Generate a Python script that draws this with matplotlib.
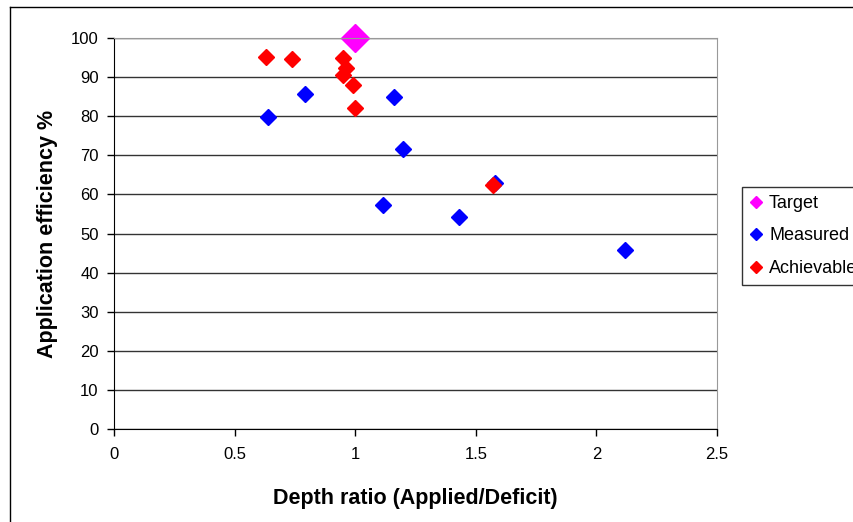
import matplotlib
matplotlib.use("Agg")
import matplotlib.pyplot as plt
from matplotlib.lines import Line2D

plt.rcParams['font.family'] = ['Liberation Sans', 'DejaVu Sans']

# depth ratio (applied/deficit) vs application efficiency %
target_x = [1.0]
target_y = [100.0]

measured_x = [0.64, 0.79, 1.16, 1.20, 1.58, 1.115, 1.43, 2.12]
measured_y = [79.7, 85.8, 85.0, 71.6, 63.0, 57.2, 54.2, 45.7]

achievable_x = [0.63, 0.74, 0.95, 0.96, 0.95, 0.99, 1.0, 1.57]
achievable_y = [95.2, 94.7, 94.8, 92.3, 90.6, 88.0, 82.0, 62.4]

fig = plt.figure(figsize=(8.54, 5.22), dpi=100)
ax = fig.add_axes([114/854, 1-429/522, (717-114)/854, (429-38)/522])

ax.set_xlim(0, 2.5)
ax.set_ylim(0, 100)
ax.set_xticks([0, 0.5, 1, 1.5, 2, 2.5])
ax.set_xticklabels(['0', '0.5', '1', '1.5', '2', '2.5'])
ax.set_yticks(range(0, 101, 10))

ax.grid(axis='y', color='#333333', linewidth=1)
ax.set_axisbelow(True)
for s in ['top', 'right']:
    ax.spines[s].set_color('#999999')
for s in ['left', 'bottom']:
    ax.spines[s].set_color('black')
ax.tick_params(direction='out', length=5, width=1, labelsize=12, pad=6)
ax.tick_params(axis='x', pad=8)

ax.plot(measured_x, measured_y, 'D', color='#0000ff', ms=8, ls='none', label='Measured', clip_on=False)
ax.plot(achievable_x, achievable_y, 'D', color='#ff0000', ms=8, ls='none', label='Achievable', clip_on=False)
ax.plot(target_x, target_y, 'D', color='#ff00ff', ms=14, ls='none', label='Target', clip_on=False)

ax.set_xlabel('Depth ratio (Applied/Deficit)', fontsize=15.5, fontweight='bold', labelpad=19)
ax.set_ylabel('Application efficiency %', fontsize=15.5, fontweight='bold', labelpad=9)

handles = [Line2D([], [], marker='D', color='#ff00ff', ls='none', ms=6),
           Line2D([], [], marker='D', color='#0000ff', ls='none', ms=6),
           Line2D([], [], marker='D', color='#ff0000', ls='none', ms=6)]
leg = fig.legend(handles, ['Target', 'Measured', 'Achievable'],
                 loc='upper left', bbox_to_anchor=(742/854, 1-187/522),
                 fontsize=13, frameon=True, fancybox=False, edgecolor='black',
                 handlelength=0.7, handletextpad=0.35, borderpad=0.45,
                 labelspacing=0.85, borderaxespad=0)
leg.get_frame().set_linewidth(1)

# outer chart border (top and left visible)
fig.add_artist(Line2D([10/854, 1.0], [1-7/522, 1-7/522], color='black', lw=1))
fig.add_artist(Line2D([10/854, 10/854], [0, 1-7/522], color='black', lw=1))

fig.savefig('out.png', dpi=100)
